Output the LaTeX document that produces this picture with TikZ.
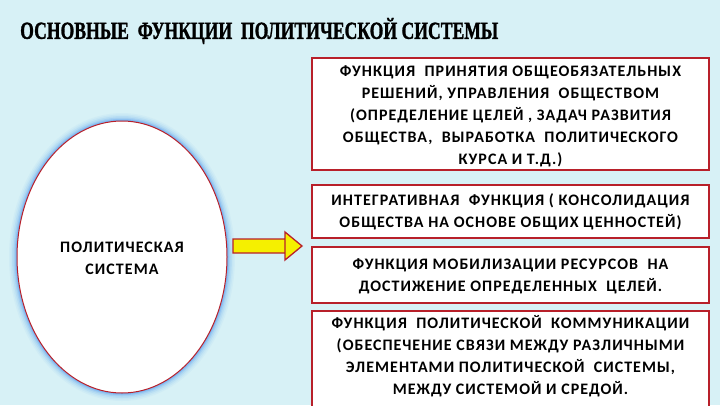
\documentclass[tikz,border=0pt]{standalone}
\usepackage{fontspec}
\usepackage{graphicx}
\setmainfont{Carlito}
\newfontfamily\titlefont[BoldFeatures={FakeBold=1.5}]{Liberation Serif}
\newfontfamily\bodyfont[LetterSpace=6.5]{Carlito}
\usetikzlibrary{shapes.geometric}
\definecolor{bgc}{HTML}{D7F1F6}
\definecolor{boxred}{HTML}{B8202A}
\definecolor{glow}{HTML}{5AA0F0}
\definecolor{arrowy}{HTML}{F5F000}
\tikzset{
  fbox/.style={draw=boxred, line width=1.8pt, fill=white, minimum width=397pt, inner sep=0pt},
  ftext/.style={align=center, font=\bodyfont\bfseries\fontsize{16}{22}\selectfont, inner sep=0pt},
}
\begin{document}
\begin{tikzpicture}[x=1pt,y=-1pt]
\useasboundingbox (0,0) rectangle (720,405);
\fill[bgc] (0,0) rectangle (720,405);
% title
\node[anchor=west, inner sep=0pt] (title) at (20,31)
  {\scalebox{0.72}[1]{\titlefont\bfseries\fontsize{24.5}{24.5}\selectfont ОСНОВНЫЕ\ \ ФУНКЦИИ\ \ ПОЛИТИЧЕСКОЙ\ СИСТЕМЫ}};
% glow around ellipse
\foreach \w/\o in {16/0.06,13/0.08,10/0.12,7/0.18,4.5/0.28,2.5/0.4}
  \draw[glow, line width=\w pt, opacity=\o] (122,257) ellipse [x radius=105, y radius=136];
\node[ellipse, draw=boxred, line width=1pt, fill=white, minimum width=210pt, minimum height=272pt, inner sep=0pt] (ps) at (122,257) {};
\node[ftext] (pstext) at (122,258) {ПОЛИТИЧЕСКАЯ\\СИСТЕМА};
% boxes
\node[fbox, minimum height=112pt] (b1) at (510.5,114) {};
\node[ftext] (t1) at (510.5,116) {ФУНКЦИЯ\ \ ПРИНЯТИЯ ОБЩЕОБЯЗАТЕЛЬНЫХ\\РЕШЕНИЙ, УПРАВЛЕНИЯ\ \ ОБЩЕСТВОМ\\(ОПРЕДЕЛЕНИЕ ЦЕЛЕЙ , ЗАДАЧ РАЗВИТИЯ\\ОБЩЕСТВА,\ \ ВЫРАБОТКА\ \ ПОЛИТИЧЕСКОГО\\КУРСА И Т.Д.)};
\node[fbox, minimum height=53pt] (b2) at (510.5,211.5) {};
\node[ftext] (t2) at (510.5,212) {ИНТЕГРАТИВНАЯ\ \ ФУНКЦИЯ ( КОНСОЛИДАЦИЯ\\ОБЩЕСТВА НА ОСНОВЕ ОБЩИХ ЦЕННОСТЕЙ)};
\node[fbox, minimum height=56pt] (b3) at (510.5,275) {};
\node[ftext] (t3) at (510.5,276) {ФУНКЦИЯ МОБИЛИЗАЦИИ РЕСУРСОВ\ \ НА\\ДОСТИЖЕНИЕ ОПРЕДЕЛЕННЫХ\ \ ЦЕЛЕЙ.};
\node[fbox, minimum height=98pt] (b4) at (510.5,360) {};
\node[ftext] (t4) at (510.5,356) {ФУНКЦИЯ\ \ ПОЛИТИЧЕСКОЙ\ \ КОММУНИКАЦИИ\\(ОБЕСПЕЧЕНИЕ СВЯЗИ МЕЖДУ РАЗЛИЧНЫМИ\\ЭЛЕМЕНТАМИ ПОЛИТИЧЕСКОЙ\ \ СИСТЕМЫ,\\МЕЖДУ СИСТЕМОЙ И СРЕДОЙ.};
% arrow
\coordinate (a0) at (233,246);
\coordinate (tip) at (302,246);
\draw[boxred, line width=1.3pt, fill=arrowy, line join=miter]
  ([yshift=-7pt]a0) -- ([yshift=-7pt]a0 -| 285,0) -- (285,232) -- (tip) -- (285,260)
  -- ([yshift=7pt]a0 -| 285,0) -- ([yshift=7pt]a0) -- cycle;
\end{tikzpicture}
\end{document}
